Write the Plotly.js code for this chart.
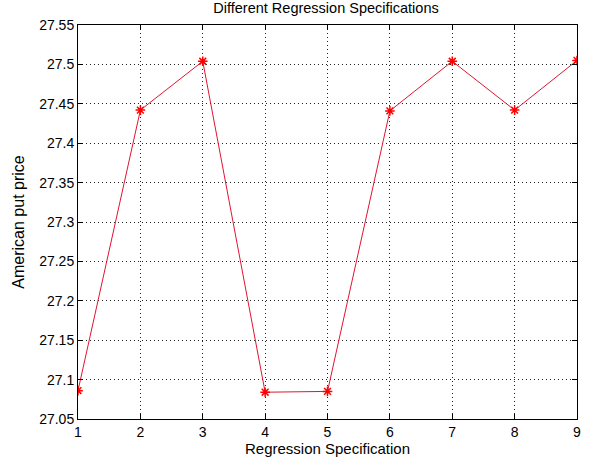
<!DOCTYPE html>
<html>
<head>
<meta charset="utf-8">
<script src="https://cdn.plot.ly/plotly-3.0.1.min.js"></script>
<style>
  html, body { margin: 0; padding: 0; background: #fff; }
  #chart { width: 591px; height: 469px; }
</style>
</head>
<body>
<div id="chart"></div>
<script>
// Regression specification index and the resulting American put price
const specs = [1, 2, 3, 4, 5, 6, 7, 8, 9];
const putPrice = [27.086, 27.442, 27.504, 27.084, 27.085, 27.441, 27.504, 27.442, 27.505];
const yTicks = [27.05, 27.1, 27.15, 27.2, 27.25, 27.3, 27.35, 27.4, 27.45, 27.5, 27.55];
const yTickText = ['27.05', '27.1', '27.15', '27.2', '27.25', '27.3', '27.35', '27.4', '27.45', '27.5', '27.55'];

const font = 'Liberation Sans, Arial, sans-serif';

const trace = {
  x: specs,
  y: putPrice,
  mode: 'lines+markers',
  line: { color: '#e01530', width: 1 },
  marker: { symbol: 'asterisk-open', size: 8, color: '#ff0000', line: { color: '#ff0000', width: 1.5 } },
  hoverinfo: 'x+y'
};

const axisCommon = {
  showline: true,
  linecolor: '#000',
  linewidth: 1,
  mirror: 'ticks',
  ticks: 'inside',
  ticklen: 5,
  tickcolor: '#000',
  showgrid: true,
  gridcolor: '#222',
  griddash: '1px,3px',
  gridwidth: 1,
  zeroline: false,
  tickfont: { family: font, size: 14, color: '#000' }
};

const layout = {
  width: 591,
  height: 469,
  margin: { l: 78, r: 14, t: 25, b: 50 },
  paper_bgcolor: '#fff',
  plot_bgcolor: '#fff',
  showlegend: false,
  title: {
    text: 'Different Regression Specifications',
    font: { family: font, size: 14.5, color: '#000' },
    x: 326 / 591, xanchor: 'center', y: 0.995, yanchor: 'top'
  },
  xaxis: Object.assign({}, axisCommon, {
    range: [1, 9],
    tickvals: specs,
    ticktext: specs.map(String),
    title: { text: 'Regression Specification', font: { family: font, size: 15, color: '#000' }, standoff: 3 }
  }),
  yaxis: Object.assign({}, axisCommon, {
    range: [27.05, 27.55],
    tickvals: yTicks,
    ticktext: yTickText,
    title: { text: 'American put price', font: { family: font, size: 16, color: '#000' }, standoff: 10 }
  })
};

Plotly.newPlot('chart', [trace], layout, { displayModeBar: false, staticPlot: true });
</script>
</body>
</html>
